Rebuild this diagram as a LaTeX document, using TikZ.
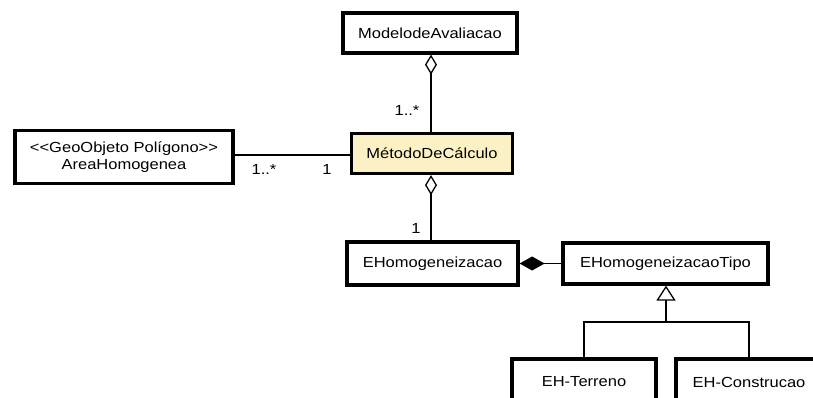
\documentclass[tikz,border=0pt]{standalone}
\usepackage{fontspec}
\setmainfont[FakeStretch=1.13]{Liberation Sans}
\usetikzlibrary{arrows.meta}
\definecolor{methfill}{RGB}{252,241,196}
\tikzset{
  cls/.style={draw=black, line width=3.2pt, inner sep=0pt, font=\fontsize{14.6}{17.5}\selectfont, align=center},
  conn/.style={draw=black, line width=1.3pt},
  lbl/.style={font=\fontsize{14.6}{17.5}\selectfont, inner sep=0pt},
  aggr/.style={{Diamond[open, length=20pt, width=12pt, line width=1.3pt]}-},
  comp/.style={{Diamond[length=25pt, width=14pt]}-},
  gen/.style={-{Triangle[open, length=15pt, width=19pt, line width=1.3pt]}}
}
\begin{document}
\begin{tikzpicture}[x=1pt,y=-1pt]
\useasboundingbox (0,0) rectangle (813,398);
\node[cls, minimum width=174pt, minimum height=40pt] (mod) at (430,33) {ModelodeAvaliacao};
\node[cls, fill=methfill, minimum width=161pt, minimum height=40pt] (met) at (432,153.5) {MétodoDeCálculo};
\node[cls, minimum width=218pt, minimum height=53pt] (area) at (124,157) {<{}<GeoObjeto Polígono>{}>\\AreaHomogenea};
\node[cls, minimum width=171pt, minimum height=43pt] (eh) at (432.5,263.5) {EHomogeneizacao};
\node[cls, minimum width=205pt, minimum height=41pt] (tipo) at (665.5,263.5) {EHomogeneizacaoTipo};
\node[cls, minimum width=144pt, minimum height=46pt] (ter) at (584,382) {EH-Terreno};
\node[cls, minimum width=146pt, minimum height=46pt] (con) at (749,382) {EH-Construcao};
\coordinate (jn) at (666,322);
\draw[conn, aggr] (mod.south -| 431,0) -- (met.north -| 431,0);
\draw[conn, aggr] (met.south -| 431,0) -- (eh.north -| 431,0);
\draw[conn] (area.east |- 0,155) -- (met.west |- 0,155);
\draw[conn, comp] (eh.east) -- (tipo.west);
\draw[conn, gen] (ter.north) |- (jn) -- (tipo.south -| jn);
\draw[conn] (con.north) |- (jn);
\node[lbl] (l1) at (407,110) {1..*};
\node[lbl] (l2) at (264,169) {1..*};
\node[lbl] (l3) at (327,169) {1};
\node[lbl] (l4) at (416,228) {1};
\end{tikzpicture}
\end{document}
